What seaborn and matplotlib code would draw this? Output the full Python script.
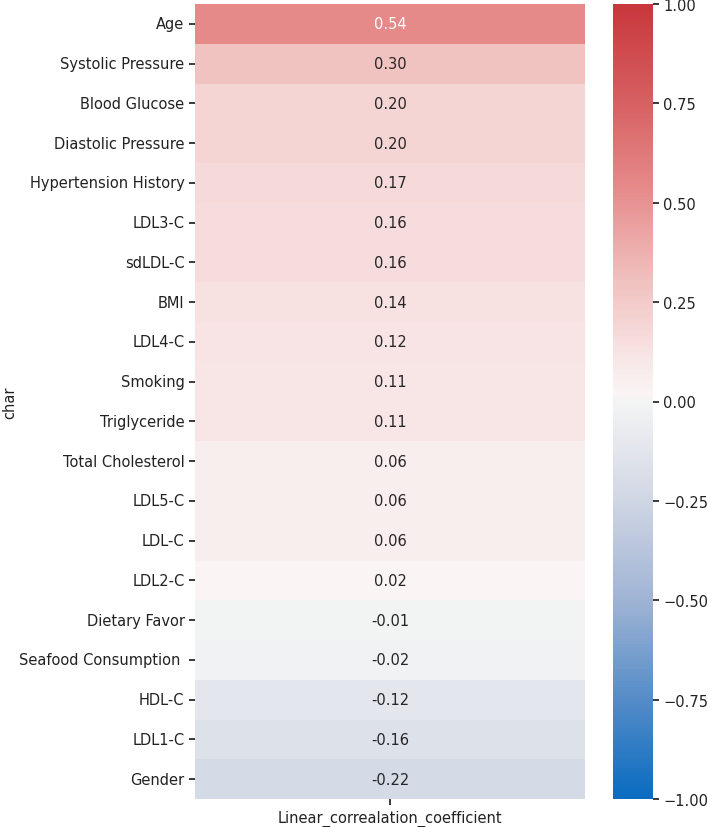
import numpy as np
import pandas as pd
import seaborn as sns
import matplotlib
matplotlib.use("Agg")
import matplotlib.pyplot as plt
from matplotlib.colors import LinearSegmentedColormap

chars = ["Age", "Systolic Pressure", "Blood Glucose", "Diastolic Pressure",
         "Hypertension History", "LDL3-C", "sdLDL-C", "BMI", "LDL4-C", "Smoking",
         "Triglyceride", "Total Cholesterol", "LDL5-C", "LDL-C", "LDL2-C",
         "Dietary Favor", "Seafood Consumption ", "HDL-C", "LDL1-C", "Gender"]
coefs = [0.54, 0.30, 0.20, 0.20, 0.17, 0.16, 0.16, 0.14, 0.12, 0.11,
         0.11, 0.06, 0.06, 0.06, 0.02, -0.01, -0.02, -0.12, -0.16, -0.22]
col_name = "Linear_correalation_coefficient"

# colour anchors of the diverging scale (position in [0,1], rgb)
cmap_pos = [0.0, 0.125, 0.25, 0.39, 0.5, 0.51, 0.555, 0.6, 0.65, 0.77, 0.875, 1.0]
cmap_rgb = [(10, 108, 192), (85, 140, 200), (160, 180, 212), (213, 218, 230),
            (244, 244, 244), (250, 244, 244), (248, 230, 230), (245, 212, 212),
            (240, 194, 192), (230, 138, 138), (215, 97, 99), (200, 55, 60)]

df = pd.DataFrame({col_name: coefs}, index=pd.Index(chars, name="char"))

sns.set_theme(style="white")
plt.rcParams['font.family'] = ['DejaVu Sans']

fs = 10.5
fig = plt.figure(figsize=(7.08, 8.28), dpi=100)
ax = fig.add_axes([195/708, 28/828, 390/708, 795/828])
cax = fig.add_axes([613/708, 28/828, 40/708, 795/828])

cmap = LinearSegmentedColormap.from_list(
    "corr", list(zip(cmap_pos, [tuple(c / 255 for c in rgb) for rgb in cmap_rgb])))
sns.heatmap(df, ax=ax, cbar_ax=cax, cmap=cmap, vmin=-1, vmax=1,
            annot=True, fmt=".2f", annot_kws={"fontsize": fs})
ax.tick_params(axis="y", labelsize=fs, rotation=0, length=4, left=True, colors="#222222")
ax.tick_params(axis="x", labelsize=fs, length=4, bottom=True, colors="#222222")
ax.set_ylabel("char", fontsize=fs, color="#222222")
ax.yaxis.set_label_coords(-0.455, 0.5)
cax.tick_params(labelsize=fs, length=4, right=True, colors="#222222")
for s in cax.spines.values():
    s.set_visible(False)

fig.savefig("out.png", dpi=100)
